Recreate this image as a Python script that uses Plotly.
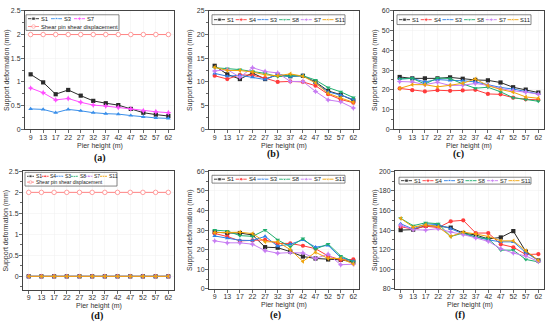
import plotly.graph_objects as go

W, H = 550, 330
pier = ["9", "13", "17", "22", "27", "32", "37", "42", "47", "52", "57", "62"]

# (a)
a_S1 = [1.16, 0.99, 0.74, 0.83, 0.71, 0.60, 0.55, 0.51, 0.43, 0.35, 0.31, 0.28]
a_S3 = [0.43, 0.42, 0.35, 0.42, 0.39, 0.35, 0.33, 0.32, 0.29, 0.26, 0.24, 0.23]
a_S7 = [0.87, 0.77, 0.62, 0.65, 0.57, 0.51, 0.49, 0.46, 0.43, 0.39, 0.37, 0.35]
shear_pin = [2.0] * 12

# (b)
b_S1 = [13.4, 11.6, 10.6, 11.9, 10.6, 11.5, 11.2, 11.3, 10.0, 8.1, 7.3, 6.1]
b_S4 = [11.3, 10.6, 11.5, 11.4, 10.8, 10.0, 10.1, 10.0, 9.2, 7.4, 6.3, 5.6]
b_S3 = [11.8, 11.2, 11.4, 11.0, 10.5, 11.6, 11.1, 11.4, 9.8, 7.9, 7.2, 6.3]
b_S8 = [13.0, 12.8, 12.6, 12.2, 11.8, 11.1, 11.3, 11.3, 10.4, 8.8, 7.9, 6.7]
b_S7 = [12.3, 12.6, 11.0, 13.0, 12.2, 11.9, 10.1, 10.1, 8.0, 6.2, 5.8, 4.5]
b_S11 = [13.1, 12.4, 12.4, 12.1, 11.5, 11.3, 11.7, 11.2, 9.8, 7.6, 6.6, 5.7]

# (c)
c_S1 = [26.5, 25.8, 25.8, 25.8, 26.3, 25.6, 25.0, 24.8, 23.7, 21.3, 20.1, 18.6]
c_S4 = [20.7, 19.8, 19.2, 19.8, 19.5, 19.7, 20.0, 17.9, 17.7, 16.0, 15.2, 14.9]
c_S3 = [25.5, 25.8, 24.0, 25.2, 24.8, 24.6, 24.0, 22.6, 21.2, 20.4, 19.3, 17.9]
c_S8 = [25.5, 25.8, 22.9, 26.0, 25.7, 23.0, 20.8, 21.3, 19.0, 16.0, 15.1, 14.2]
c_S7 = [24.2, 24.0, 22.6, 23.8, 22.2, 22.3, 23.2, 22.3, 20.6, 19.5, 18.8, 17.8]
c_S11 = [20.7, 22.6, 22.6, 21.5, 22.3, 23.3, 25.5, 22.1, 20.2, 18.8, 16.4, 15.7]

# (d)
d_S1 = [0] * 12
d_S4 = [0] * 12
d_S3 = [0] * 12
d_S8 = [0] * 12
d_S7 = [0] * 12
d_S11 = [0] * 12

# (e)
e_S1 = [29.0, 28.5, 28.5, 27.5, 21.3, 21.0, 19.0, 16.5, 15.5, 15.0, 14.8, 13.8]
e_S4 = [28.3, 26.7, 24.5, 24.7, 25.0, 23.2, 23.2, 22.0, 20.5, 16.8, 14.8, 15.0]
e_S3 = [27.0, 25.8, 24.8, 24.7, 26.8, 21.8, 22.8, 25.0, 21.3, 22.2, 16.0, 14.2]
e_S8 = [30.0, 29.5, 27.2, 26.8, 30.0, 25.0, 21.5, 25.7, 20.3, 22.9, 16.8, 13.8]
e_S7 = [24.5, 23.5, 23.5, 22.8, 19.5, 18.2, 18.5, 18.3, 15.5, 17.7, 12.3, 12.6]
e_S11 = [28.7, 28.8, 28.9, 28.2, 24.0, 24.0, 20.0, 14.0, 18.7, 15.5, 15.5, 12.7]

# (f)
f_S1 = [140, 140.5, 144.5, 144, 142.5, 137, 135, 131, 132.5, 139, 118, 109]
f_S4 = [143.5, 141, 144, 142.5, 149, 150, 137, 137, 125.5, 122.5, 115, 115.5]
f_S3 = [146.5, 141, 146.5, 145.5, 141.5, 136, 133, 130, 128, 128, 117, 109]
f_S8 = [152, 144.5, 147.5, 146.5, 133.5, 137, 133, 131, 119.5, 119.5, 110, 107.5]
f_S7 = [145, 140.5, 140, 141.5, 138, 135.5, 132, 128.5, 121, 116.5, 113.5, 108]
f_S11 = [152, 143, 145.5, 143.5, 133.5, 138, 136, 133.5, 129, 129, 119, 109]

STYLE = {
    "S1": dict(color="#2b2b2b", symbol="square"),
    "S4": dict(color="#ff3b3b", symbol="circle"),
    "S3": dict(color="#2d7fe6", symbol="triangle-up"),
    "S8": dict(color="#1fae6e", symbol="triangle-down"),
    "S7": dict(color="#c77cf2", symbol="star-diamond"),
    "S11": dict(color="#f0a30a", symbol="triangle-left"),
}
STYLE_A = {
    "S1": dict(color="#2b2b2b", symbol="square"),
    "S3": dict(color="#3a8fea", symbol="triangle-up"),
    "S7": dict(color="#ff4dff", symbol="star-diamond"),
}
PIN = dict(color="#ff8585", symbol="circle")
PIN_NAME = "Shear pin shear displacement"

six = ["S1", "S4", "S3", "S8", "S7", "S11"]
panels = [
    dict(series=dict(zip(["S1", "S3", "S7"], [a_S1, a_S3, a_S7])), style=STYLE_A, pin=True,
         dom=(25, 174, 7, 128), yr=[0, 2.5], dt=0.5, mdt=0.25, lab="(a)", labpos=(100, 157),
         ytitle=7, xtitle=145,
         leg=dict(box=(26, 119, 11, 27), rows=[15, 23], x0=28, sp=23, L=11, fs=5.8, ms=3.6)),
    dict(series=dict(zip(six, [b_S1, b_S4, b_S3, b_S8, b_S7, b_S11])), style=STYLE, pin=False,
         dom=(209, 359, 7, 128), yr=[0, 25], dt=5, mdt=2.5, lab="(b)", labpos=(273, 153),
         ytitle=190, xtitle=145,
         leg=dict(box=(212, 345, 11, 21), rows=[16], x0=214, sp=21.7, L=11, fs=5.8, ms=3.6)),
    dict(series=dict(zip(six, [c_S1, c_S4, c_S3, c_S8, c_S7, c_S11])), style=STYLE, pin=False,
         dom=(394, 544, 7, 128), yr=[0, 60], dt=10, mdt=5, lab="(c)", labpos=(458, 153),
         ytitle=375, xtitle=145,
         leg=dict(box=(397, 531, 11, 21), rows=[16], x0=399, sp=21.7, L=11, fs=5.8, ms=3.6)),
    dict(series=dict(zip(six, [d_S1, d_S4, d_S3, d_S8, d_S7, d_S11])), style=STYLE, pin=True,
         dom=(23, 174, 171, 292), yr=[-0.32, 2.5], dt=0.5, mdt=0.25, lab="(d)", labpos=(97, 319),
         ytitle=6, xtitle=309,
         leg=dict(box=(25, 117, 172, 186), rows=[176, 182], x0=27, sp=14.6, L=7, fs=5.0, ms=3.0)),
    dict(series=dict(zip(six, [e_S1, e_S4, e_S3, e_S8, e_S7, e_S11])), style=STYLE, pin=False,
         dom=(209, 359, 171, 291), yr=[0, 60], dt=10, mdt=5, lab="(e)", labpos=(275, 318),
         ytitle=190, xtitle=308,
         leg=dict(box=(212, 345, 175, 183), rows=[179], x0=214, sp=21.7, L=11, fs=5.8, ms=3.6)),
    dict(series=dict(zip(six, [f_S1, f_S4, f_S3, f_S8, f_S7, f_S11])), style=STYLE, pin=False,
         dom=(395, 544, 171, 291), yr=[80, 200], dt=20, mdt=10, lab="(f)", labpos=(460, 318),
         ytitle=375, xtitle=308,
         leg=dict(box=(399, 531, 177, 184), rows=[180.5], x0=401, sp=21.5, L=11, fs=5.6, ms=3.6)),
]

FONT = "Liberation Sans, Arial, sans-serif"
AX = "#444444"
fig = go.Figure()
annotations = []
shapes = []
layout = {}


def PX(v):
    return v / W


def PY(v):
    return 1 - v / H


def note(text, x, y, size, xanchor="center", angle=0, family=FONT, color="#333"):
    return dict(text=text, x=PX(x), y=PY(y), xref="paper", yref="paper", showarrow=False,
                xanchor=xanchor, yanchor="middle", textangle=angle, borderpad=0,
                font=dict(family=family, size=size, color=color))


for i, p in enumerate(panels):
    k = i + 1
    xa, ya = ("x" if k == 1 else f"x{k}"), ("y" if k == 1 else f"y{k}")
    for name, vals in p["series"].items():
        st = p["style"][name]
        fig.add_trace(go.Scatter(
            x=pier, y=vals, name=name, mode="lines+markers", xaxis=xa, yaxis=ya,
            line=dict(color=st["color"], width=1),
            marker=dict(symbol=st["symbol"], size=4.2, color=st["color"]),
            showlegend=False, cliponaxis=False))
    if p["pin"]:
        fig.add_trace(go.Scatter(
            x=pier, y=shear_pin, name=PIN_NAME, mode="lines+markers", xaxis=xa, yaxis=ya,
            line=dict(color=PIN["color"], width=1),
            marker=dict(symbol="circle", size=4.5, color="white", line=dict(color=PIN["color"], width=0.8)),
            showlegend=False))
    l, r, t, b = p["dom"]
    layout[f"xaxis{k}"] = dict(
        domain=[PX(l), PX(r)], anchor=ya, type="category", range=[-0.45, 11.45],
        showline=True, linecolor=AX, linewidth=1, mirror=True,
        ticks="outside", ticklen=3, tickwidth=0.8, tickcolor=AX, ticklabelstandoff=-2,
        tickfont=dict(family=FONT, size=7, color="#333"), tickangle=0,
        showgrid=True, gridcolor="#efefef", gridwidth=0.5, zeroline=False, fixedrange=True)
    layout[f"yaxis{k}"] = dict(
        domain=[PY(b), PY(t)], anchor=xa, range=p["yr"], dtick=p["dt"], tick0=0,
        showline=True, linecolor=AX, linewidth=1, mirror=True,
        ticks="outside", ticklen=3, tickwidth=0.8, tickcolor=AX, ticklabelstandoff=-1,
        minor=dict(dtick=p["mdt"], ticks="outside", ticklen=1.8, tickcolor=AX, showgrid=False),
        tickfont=dict(family=FONT, size=7, color="#333"),
        showgrid=True, gridcolor="#efefef", gridwidth=0.5, zeroline=False, fixedrange=True)
    # axis titles and panel label
    annotations.append(note("Support deformation (mm)", p["ytitle"], (t + b) / 2, 7, angle=-90))
    annotations.append(note("Pier height (m)", (l + r) / 2, p["xtitle"], 7))
    annotations.append(note("<b>" + p["lab"] + "</b>", p["labpos"][0], p["labpos"][1], 10,
                            family="Liberation Serif, Times New Roman, serif", color="#111"))
    # legend (drawn manually to keep Origin-style compact entries)
    lg = p["leg"]
    bl, br, bt, bb = lg["box"]
    shapes.append(dict(type="rect", xref="paper", yref="paper", x0=PX(bl), x1=PX(br), y0=PY(bb), y1=PY(bt),
                       line=dict(color="#555", width=0.7), fillcolor="rgba(0,0,0,0)", layer="above"))
    for j, n in enumerate(p["series"]):
        st = p["style"][n]
        x0 = lg["x0"] + j * lg["sp"]
        y0 = lg["rows"][0]
        fig.add_trace(go.Scatter(
            x=[x0, x0 + lg["L"] / 2, x0 + lg["L"]], y=[y0, y0, y0], mode="lines+markers",
            xaxis="x7", yaxis="y7", showlegend=False, hoverinfo="skip",
            line=dict(color=st["color"], width=0.9),
            marker=dict(symbol=st["symbol"], size=[0, lg["ms"], 0], color=st["color"])))
        annotations.append(note(n, x0 + lg["L"] + 0.8, y0, lg["fs"], xanchor="left", color="#222"))
    if p["pin"]:
        x0 = lg["x0"]
        y0 = lg["rows"][1]
        fig.add_trace(go.Scatter(
            x=[x0, x0 + lg["L"] / 2, x0 + lg["L"]], y=[y0, y0, y0], mode="lines+markers",
            xaxis="x7", yaxis="y7", showlegend=False, hoverinfo="skip",
            line=dict(color=PIN["color"], width=0.9),
            marker=dict(symbol="circle", size=[0, lg["ms"], 0], color="white",
                        line=dict(color=PIN["color"], width=0.8))))
        annotations.append(note(PIN_NAME, x0 + lg["L"] + 0.8, y0, lg["fs"], xanchor="left", color="#222"))

layout["xaxis7"] = dict(domain=[0, 1], range=[0, W], anchor="y7", visible=False, fixedrange=True)
layout["yaxis7"] = dict(domain=[0, 1], range=[H, 0], anchor="x7", visible=False, fixedrange=True)

fig.update_layout(
    width=W, height=H, margin=dict(l=0, r=0, t=0, b=0),
    paper_bgcolor="white", plot_bgcolor="rgba(0,0,0,0)",
    showlegend=False, annotations=annotations, shapes=shapes,
    font=dict(family=FONT), **layout)

fig.write_html("out.html", config={"displayModeBar": False, "staticPlot": True},
               post_script="document.body.style.margin='0';document.body.style.overflow='hidden';")
